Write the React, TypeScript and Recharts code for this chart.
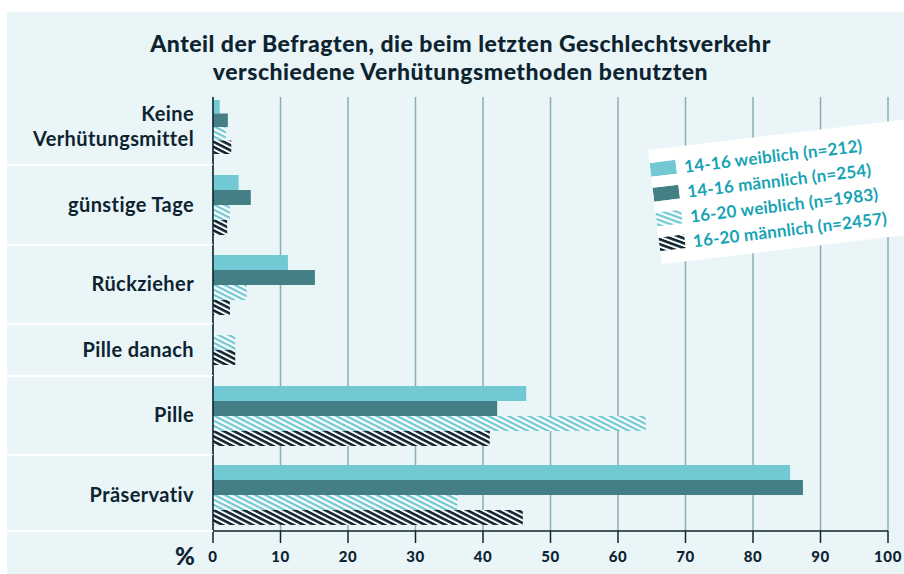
import { Bar, BarChart, CartesianGrid, Label, XAxis, YAxis } from "recharts";

const categories = ["Keine Verhütungsmittel", "günstige Tage", "Rückzieher", "Pille danach", "Pille", "Präservativ"];
const female1416 = [1.0, 3.8, 11.1, null, 46.4, 85.5];
const male1416 = [2.2, 5.6, 15.1, null, 42.1, 87.4];
const female1620 = [1.9, 2.5, 5.0, 3.3, 64.1, 36.2];
const male1620 = [2.7, 2.1, 2.5, 3.3, 41.0, 45.9];
const seriesNames = ["14-16 weiblich (n=212)", "14-16 männlich (n=254)", "16-20 weiblich (n=1983)", "16-20 männlich (n=2457)"];
const xTicks = [0, 10, 20, 30, 40, 50, 60, 70, 80, 90, 100];
const titleLines = ["Anteil der Befragten, die beim letzten Geschlechtsverkehr", "verschiedene Verhütungsmethoden benutzten"];

const INK = "#0d2430";
const LIGHT = "#72c8d3";
const DARK = "#457f86";
const GRID = "#86aeb5";
const PANEL = "#eaf5f8";
const TEAL = "#17a3b4";
const FONT = "Lato, 'Noto Sans', sans-serif";

const SERIES = [
  { key: "f1416", name: seriesNames[0], values: female1416, fill: LIGHT },
  { key: "m1416", name: seriesNames[1], values: male1416, fill: DARK },
  { key: "f1620", name: seriesNames[2], values: female1620, fill: "url(#hatchLight)" },
  { key: "m1620", name: seriesNames[3], values: male1620, fill: "url(#hatchDark)" },
];

// layout of the category rows (px)
const PLOT_TOP = 97;
const ROW_HEIGHTS = [68, 80, 79, 52, 79, 76];
const ROW_PADDING = [{ top: 0, bottom: 8 }, {}, {}, {}, {}, { top: 4, bottom: 0 }];
const AXIS_HEIGHT = 43;
const CHART_LEFT = 7;
const CHART_WIDTH = 897;
const Y_WIDTH = 206;

const CategoryTick = ({ x, y, payload }: any) => {
  const value = String(payload.value);
  const cut = value.indexOf(" ");
  const lines = value.length > 16 && cut > 0 ? [value.slice(0, cut), value.slice(cut + 1)] : [value];
  const lh = 25;
  return (
    <text x={x} y={y} textAnchor="end" fill={INK} fontFamily={FONT} fontWeight={700} fontSize={20} letterSpacing={0.4}>
      {lines.map((l, i) => (
        <tspan key={i} x={x} dy={i === 0 ? 6.5 - ((lines.length - 1) * lh) / 2 : lh}>
          {l}
        </tspan>
      ))}
    </text>
  );
};

function Row({ index, height }: { index: number; height: number }) {
  const last = index === categories.length - 1;
  const row: Record<string, any> = { name: categories[index] };
  SERIES.forEach((s) => (row[s.key] = s.values[index]));
  const shown = SERIES.filter((s) => s.values[index] != null);
  return (
    <BarChart
      width={CHART_WIDTH}
      height={height + (last ? AXIS_HEIGHT : 0)}
      data={[row]}
      layout="vertical"
      barSize={15}
      barGap={0}
      margin={{ top: 0, right: 16, bottom: 0, left: 0 }}
    >
      <CartesianGrid horizontal={false} stroke={GRID} strokeWidth={1.5} />
      <XAxis
        type="number"
        domain={[0, 100]}
        ticks={xTicks}
        hide={!last}
        height={AXIS_HEIGHT}
        axisLine={{ stroke: INK, strokeWidth: 1.5 }}
        tickLine={{ stroke: INK, strokeWidth: 1.5 }}
        tickSize={12}
        tickMargin={8}
        tick={{ fill: INK, fontFamily: FONT, fontWeight: 900, fontSize: 15, letterSpacing: 0.6 }}
      >
        <Label
          content={({ viewBox }: any) => (
            <text x={viewBox.x - 28} y={viewBox.y + 34} textAnchor="middle" fill={INK} fontFamily={FONT} fontWeight={900} fontSize={24}>
              %
            </text>
          )}
        />
      </XAxis>
      <YAxis
        type="category"
        dataKey="name"
        width={Y_WIDTH}
        padding={ROW_PADDING[index] as any}
        axisLine={{ stroke: INK, strokeWidth: 1.5 }}
        tickLine={false}
        tickSize={0}
        tickMargin={19}
        tick={<CategoryTick />}
      />
      {shown.map((s) => (
        <Bar key={s.key} dataKey={s.key} name={s.name} fill={s.fill} isAnimationActive={false} />
      ))}
    </BarChart>
  );
}

function Swatch({ fill }: { fill: string }) {
  return (
    <svg width={26} height={14} style={{ display: "block", flex: "none" }}>
      <rect width={26} height={14} fill={fill} />
    </svg>
  );
}

export default function App() {
  let top = PLOT_TOP;
  const rows = ROW_HEIGHTS.map((h, i) => {
    const el = (
      <div key={i} style={{ position: "absolute", left: CHART_LEFT, top }}>
        <Row index={i} height={h} />
        <div style={{ position: "absolute", left: 0, top: h - 1, width: Y_WIDTH, height: 2, background: "#fff" }} />
      </div>
    );
    top += h;
    return el;
  });

  return (
    <div style={{ position: "absolute", left: 0, top: 0, width: 904, height: 574, background: "#fff", overflow: "hidden" }}>
      <svg width={0} height={0} style={{ position: "absolute" }}>
        <defs>
          <pattern id="hatchLight" width={10} height={4.6} patternUnits="userSpaceOnUse" patternTransform="rotate(27)">
            <rect width={10} height={4.6} fill="#fff" />
            <rect width={10} height={2.3} fill={LIGHT} />
          </pattern>
          <pattern id="hatchDark" width={10} height={4.6} patternUnits="userSpaceOnUse" patternTransform="rotate(27)">
            <rect width={10} height={4.6} fill="#fff" />
            <rect width={10} height={2.6} fill={INK} />
          </pattern>
        </defs>
      </svg>
      <div style={{ position: "absolute", left: 7, top: 12, right: 0, bottom: 0, background: PANEL }} />
      <div
        style={{
          position: "absolute",
          left: 12,
          top: 29,
          width: 897,
          textAlign: "center",
          fontFamily: FONT,
          fontWeight: 900,
          fontSize: 23,
          letterSpacing: 0.5,
          lineHeight: "28px",
          color: INK,
        }}
      >
        {titleLines.map((t) => (
          <div key={t}>{t}</div>
        ))}
      </div>
      {rows}
      <div
        style={{
          position: "absolute",
          left: 648,
          top: 150,
          width: 300,
          height: 115,
          background: "#fff",
          transform: "rotate(-6.8deg)",
          transformOrigin: "0 0",
          paddingTop: 13,
          boxSizing: "border-box",
        }}
      >
        {SERIES.map((s) => (
          <div key={s.key} style={{ display: "flex", alignItems: "center", height: 14, marginBottom: 11 }}>
            <Swatch fill={s.fill} />
            <span style={{ marginLeft: 8, fontFamily: FONT, fontWeight: 700, fontSize: 17, letterSpacing: 0.2, color: TEAL, whiteSpace: "nowrap" }}>{s.name}</span>
          </div>
        ))}
      </div>
    </div>
  );
}
